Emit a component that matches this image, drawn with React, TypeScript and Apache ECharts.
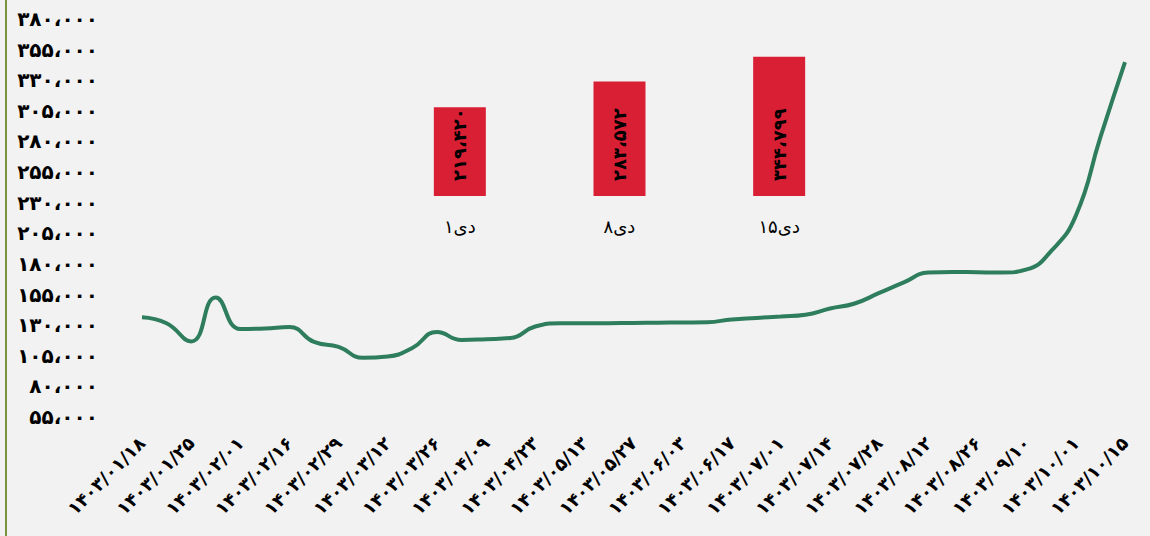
import React, { useEffect, useRef } from "react";
import * as echarts from "echarts";

// Line series: dates (Jalali) and values
const dates = [
  "1403/01/18", "1403/01/21", "1403/01/25", "1403/01/28", "1403/02/01", "1403/02/08",
  "1403/02/16", "1403/02/22", "1403/02/29", "1403/03/05", "1403/03/12", "1403/03/19",
  "1403/03/26", "1403/04/02", "1403/04/09", "1403/04/16", "1403/04/23", "1403/05/03",
  "1403/05/13", "1403/05/20", "1403/05/27", "1403/05/30", "1403/06/03", "1403/06/10",
  "1403/06/17", "1403/06/24", "1403/07/01", "1403/07/07", "1403/07/14", "1403/07/21",
  "1403/07/28", "1403/08/05", "1403/08/12", "1403/08/19", "1403/08/26", "1403/09/03",
  "1403/09/10", "1403/09/20", "1403/10/01", "1403/10/08", "1403/10/15",
];
const prices = [
  136500, 131500, 116700, 152600, 126900, 127300,
  128500, 116300, 112200, 103300, 104400, 111400,
  124400, 117900, 118500, 119500, 128900, 131500,
  131500, 131600, 131800, 132000, 132200, 132400,
  134700, 135900, 137100, 138500, 143600, 147700,
  156300, 164900, 173000, 173500, 173200, 173000,
  175500, 190600, 219420, 283572, 344799,
];

// Inset bar series
const barCategories = ["1دی", "8دی", "15دی"];
const barValues = [219420, 283572, 344799];

const FA_DIGITS = "۰۱۲۳۴۵۶۷۸۹";
const toFa = (s: string) => s.replace(/\d/g, (d) => FA_DIGITS[+d]);
const fmtNum = (v: number) => toFa(Math.round(v).toLocaleString("en-US")).replace(/,/g, "،");

const FONT = "DejaVu Sans";

export default function App() {
  const ref = useRef<HTMLDivElement>(null);
  useEffect(() => {
    document.body.style.margin = "0";
    const chart = echarts.init(ref.current!, undefined, { renderer: "svg" });
    chart.setOption({
      animation: false,
      backgroundColor: "#f2f2f2",
      textStyle: { fontFamily: FONT },
      graphic: [
        {
          type: "rect",
          left: 5,
          top: 0,
          shape: { width: 2, height: 536 },
          style: { fill: "#77933c" },
        },
      ],
      grid: [
        { left: 142, right: 25, top: 19, bottom: 119 },
        { left: 380, width: 479, top: 54.6, height: 141.4 },
      ],
      xAxis: [
        {
          type: "category",
          gridIndex: 0,
          data: dates,
          boundaryGap: false,
          axisLine: { show: false },
          axisTick: { show: false },
          axisLabel: {
            interval: (i: number) => i % 2 === 0,
            rotate: 45,
            margin: 23,
            color: "#000",
            fontSize: 18,
            fontWeight: "bold",
            fontFamily: FONT,
            formatter: (v: string) => toFa(v),
          },
        },
        {
          type: "category",
          gridIndex: 1,
          data: barCategories,
          axisLine: { show: false },
          axisTick: { show: false },
          axisLabel: {
            interval: 0,
            margin: 21,
            color: "#000",
            fontSize: 18,
            fontFamily: FONT,
            formatter: (v: string) => toFa(v),
          },
        },
      ],
      yAxis: [
        {
          type: "value",
          gridIndex: 0,
          min: 55000,
          max: 380000,
          interval: 25000,
          axisLine: { show: false },
          axisTick: { show: false },
          splitLine: { show: false },
          axisLabel: {
            margin: 44,
            color: "#000",
            fontSize: 20,
            fontWeight: "bold",
            fontFamily: FONT,
            formatter: (v: number) => fmtNum(v),
          },
        },
        {
          type: "value",
          gridIndex: 1,
          min: 0,
          max: 350000,
          show: false,
        },
      ],
      series: [
        {
          type: "line",
          xAxisIndex: 0,
          yAxisIndex: 0,
          data: prices,
          smooth: true,
          showSymbol: false,
          lineStyle: { color: "#2e7d5c", width: 4 },
          itemStyle: { color: "#2e7d5c" },
        },
        {
          type: "bar",
          xAxisIndex: 1,
          yAxisIndex: 1,
          data: barValues,
          barWidth: 52,
          itemStyle: { color: "#d91f34" },
          label: {
            show: true,
            position: "insideBottom",
            rotate: 90,
            align: "left",
            verticalAlign: "middle",
            distance: 15,
            color: "#000",
            fontSize: 18,
            fontWeight: "bold",
            fontFamily: FONT,
            formatter: (p: any) => fmtNum(p.value),
          },
        },
      ],
    });
    return () => chart.dispose();
  }, []);
  return <div ref={ref} style={{ width: 1150, height: 536, position: "absolute", left: 0, top: 0 }} />;
}
